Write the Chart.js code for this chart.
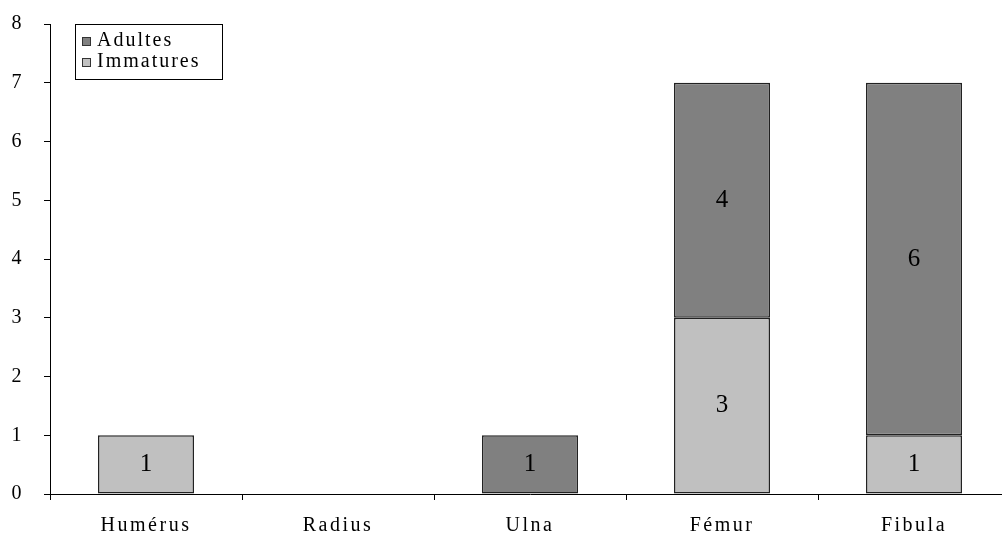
<!DOCTYPE html>
<html>
<head>
<meta charset="utf-8">
<script src="https://cdn.jsdelivr.net/npm/chart.js@4/dist/chart.umd.min.js"></script>
<style>
  html, body { margin: 0; padding: 0; background: #fff; overflow: hidden; }
  #wrap { width: 1002px; height: 534px; overflow: hidden; }
</style>
</head>
<body>
<div id="wrap"><canvas id="chart" width="1010" height="534"></canvas></div>
<script>
// Data
const categories = ['Humérus', 'Radius', 'Ulna', 'Fémur', 'Fibula'];
const immatures = [1, 0, 0, 3, 1];
const adultes = [0, 0, 1, 4, 6];
const yTicks = [0, 1, 2, 3, 4, 5, 6, 7, 8];

const FONT = '"Liberation Serif", "DejaVu Serif", serif';

// spaced-out lettering like the original export
const spacing = {
    id: 'spacing',
    beforeDraw(chart) { chart.ctx.letterSpacing = '2.5px'; }
};

// values written in the middle of each bar segment
const valueLabels = {
    id: 'valueLabels',
    afterDatasetsDraw(chart) {
        const ctx = chart.ctx;
        ctx.save();
        ctx.letterSpacing = '0px';
        ctx.font = '25px ' + FONT;
        ctx.fillStyle = '#000';
        ctx.textAlign = 'center';
        ctx.textBaseline = 'middle';
        chart.data.datasets.forEach((ds, i) => {
            chart.getDatasetMeta(i).data.forEach((bar, j) => {
                const v = ds.data[j];
                if (!v) return;
                ctx.fillText(String(v), bar.x, (bar.y + bar.base) / 2);
            });
        });
        ctx.restore();
    }
};

// boxed legend in the upper left corner, Adultes listed first
const boxLegend = {
    id: 'boxLegend',
    afterDraw(chart) {
        const ctx = chart.ctx;
        const x = chart.chartArea.left + 25, y = chart.chartArea.top;
        const items = chart.data.datasets.slice().reverse();
        ctx.save();
        ctx.letterSpacing = '2px';
        ctx.strokeStyle = '#000';
        ctx.lineWidth = 1;
        ctx.fillStyle = '#fff';
        ctx.fillRect(x, y, 147, 55);
        ctx.strokeRect(x + 0.5, y + 0.5, 147, 55);
        ctx.font = '20px ' + FONT;
        ctx.textBaseline = 'middle';
        items.forEach((ds, i) => {
            const cy = y + 17 + i * 21;
            ctx.fillStyle = ds.backgroundColor;
            ctx.fillRect(x + 7, cy - 4, 8, 8);
            ctx.strokeStyle = '#333';
            ctx.strokeRect(x + 7.5, cy - 3.5, 8, 8);
            ctx.fillStyle = '#000';
            ctx.fillText(ds.label, x + 22, cy);
        });
        ctx.restore();
    }
};

new Chart(document.getElementById('chart'), {
    type: 'bar',
    data: {
        labels: categories,
        datasets: [
            { label: 'Immatures', data: immatures, backgroundColor: '#c0c0c0', borderColor: '#222', borderWidth: 1.5, borderSkipped: false },
            { label: 'Adultes', data: adultes, backgroundColor: '#808080', borderColor: '#222', borderWidth: 1.5, borderSkipped: false }
        ]
    },
    options: {
        responsive: false,
        animation: false,
        barPercentage: 0.5,
        categoryPercentage: 1,
        layout: { padding: { top: 24, right: 0, left: 0, bottom: 0 } },
        plugins: { legend: { display: false }, tooltip: { enabled: false } },
        scales: {
            x: {
                stacked: true,
                afterFit(s) { s.height = 40; s.paddingLeft = 0; s.paddingRight = 0; },
                grid: { offset: true, drawOnChartArea: false, color: '#000', tickLength: 6 },
                border: { color: '#000' },
                ticks: { color: '#000', padding: 14, font: { family: FONT, size: 20 } }
            },
            y: {
                stacked: true,
                min: 0,
                max: 8,
                afterFit(s) { s.width = 50; s.paddingTop = 0; s.paddingBottom = 0; },
                afterBuildTicks(s) { s.ticks = yTicks.map(v => ({ value: v })); },
                grid: { drawOnChartArea: false, color: '#000', tickLength: 6 },
                border: { color: '#000' },
                ticks: { color: '#000', padding: 20, font: { family: FONT, size: 20 } }
            }
        }
    },
    plugins: [spacing, valueLabels, boxLegend]
});
</script>
</body>
</html>
